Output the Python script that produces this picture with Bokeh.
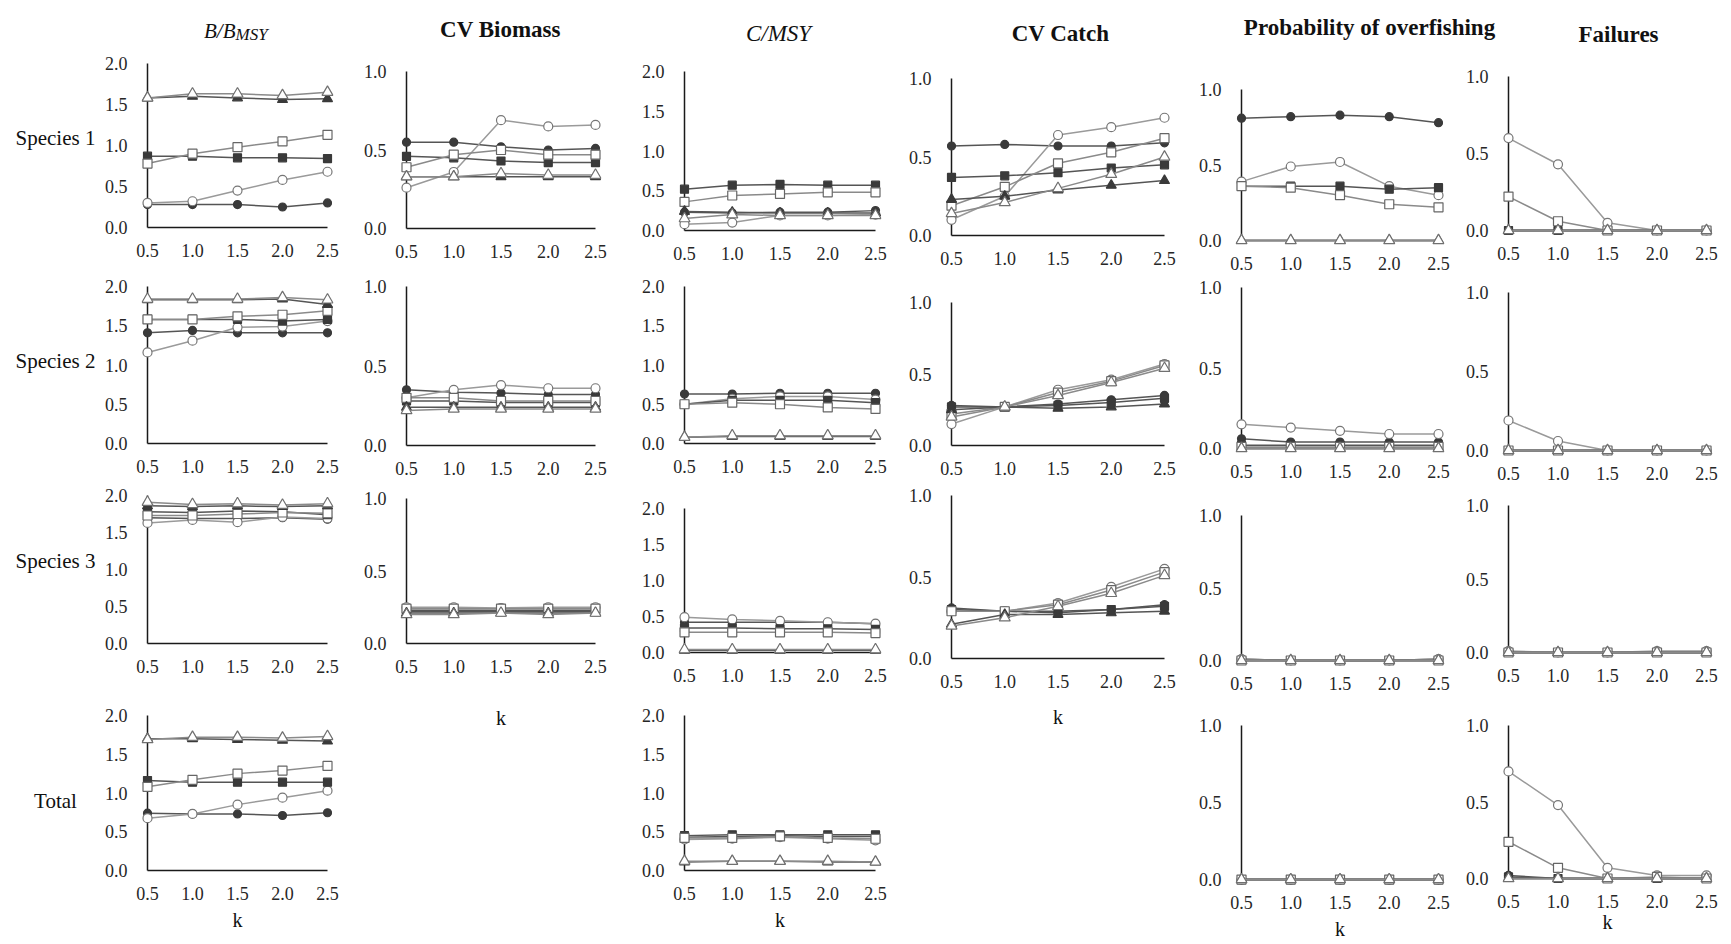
from bokeh.plotting import figure
from bokeh.layouts import row, column
from bokeh.models import Range1d, FixedTicker, NumeralTickFormatter
from bokeh.core.properties import value
from bokeh.embed import file_html
from bokeh.resources import INLINE

# ---------------- data ----------------
K = [0.5, 1.0, 1.5, 2.0, 2.5]
SERIES = ["fc", "oc", "fs", "os", "ft", "ot"]   # filled/open circle, square, triangle
ROW_LABELS = ["Species 1", "Species 2", "Species 3", "Total"]
Y_TICKS_2 = [0.0, 0.5, 1.0, 1.5, 2.0]
Y_TICKS_1 = [0.0, 0.5, 1.0]

# B/BMSY
BB_SP1 = [[0.28, 0.28, 0.28, 0.25, 0.30], [0.30, 0.32, 0.45, 0.58, 0.68], [0.87, 0.87, 0.85, 0.85, 0.84],
          [0.78, 0.90, 0.98, 1.05, 1.13], [1.58, 1.60, 1.58, 1.56, 1.57], [1.58, 1.63, 1.63, 1.61, 1.65]]
BB_SP2 = [[1.41, 1.44, 1.41, 1.41, 1.41], [1.16, 1.31, 1.48, 1.49, 1.56], [1.58, 1.58, 1.58, 1.56, 1.58],
          [1.58, 1.58, 1.62, 1.64, 1.69], [1.83, 1.83, 1.83, 1.84, 1.77], [1.84, 1.84, 1.84, 1.86, 1.83]]
BB_SP3 = [[1.70, 1.69, 1.69, 1.70, 1.68], [1.63, 1.67, 1.64, 1.71, 1.69], [1.78, 1.77, 1.79, 1.78, 1.74],
          [1.73, 1.73, 1.75, 1.77, 1.76], [1.86, 1.85, 1.86, 1.85, 1.86], [1.91, 1.88, 1.89, 1.87, 1.89]]
BB_TOT = [[0.74, 0.73, 0.73, 0.71, 0.745], [0.675, 0.73, 0.85, 0.94, 1.03], [1.16, 1.14, 1.14, 1.14, 1.14],
          [1.08, 1.17, 1.25, 1.29, 1.35], [1.70, 1.70, 1.69, 1.68, 1.67], [1.69, 1.72, 1.72, 1.71, 1.73]]
# CV Biomass
CVB_SP1 = [[0.55, 0.55, 0.52, 0.50, 0.51], [0.26, 0.36, 0.69, 0.65, 0.66], [0.46, 0.45, 0.43, 0.42, 0.42],
           [0.39, 0.47, 0.50, 0.47, 0.47], [0.33, 0.33, 0.33, 0.33, 0.33], [0.33, 0.33, 0.35, 0.34, 0.34]]
CVB_SP2 = [[0.35, 0.335, 0.33, 0.32, 0.32], [0.30, 0.35, 0.38, 0.36, 0.36], [0.28, 0.28, 0.27, 0.27, 0.27],
           [0.30, 0.30, 0.28, 0.28, 0.28], [0.24, 0.24, 0.24, 0.24, 0.24], [0.22, 0.23, 0.23, 0.23, 0.23]]
CVB_SP3 = [[0.23, 0.23, 0.23, 0.23, 0.23], [0.25, 0.25, 0.245, 0.25, 0.25], [0.22, 0.22, 0.22, 0.22, 0.22],
           [0.24, 0.24, 0.24, 0.24, 0.24], [0.21, 0.21, 0.21, 0.21, 0.21], [0.20, 0.20, 0.21, 0.20, 0.21]]
# C/MSY
CM_SP1 = [[0.23, 0.22, 0.23, 0.23, 0.25], [0.08, 0.10, 0.19, 0.19, 0.20], [0.52, 0.57, 0.58, 0.57, 0.57],
          [0.36, 0.44, 0.46, 0.48, 0.48], [0.24, 0.23, 0.22, 0.22, 0.22], [0.15, 0.20, 0.19, 0.19, 0.19]]
CM_SP2 = [[0.63, 0.63, 0.64, 0.64, 0.64], [0.50, 0.57, 0.60, 0.60, 0.56], [0.50, 0.55, 0.55, 0.55, 0.52],
          [0.50, 0.52, 0.50, 0.46, 0.44], [0.08, 0.09, 0.09, 0.09, 0.09], [0.08, 0.10, 0.10, 0.10, 0.10]]
CM_SP3 = [[0.42, 0.42, 0.42, 0.42, 0.40], [0.49, 0.46, 0.44, 0.42, 0.40], [0.34, 0.34, 0.33, 0.33, 0.32],
          [0.28, 0.28, 0.28, 0.28, 0.27], [0.03, 0.03, 0.03, 0.03, 0.03], [0.04, 0.04, 0.04, 0.04, 0.04]]
CM_TOT = [[0.43, 0.44, 0.45, 0.44, 0.44], [0.40, 0.41, 0.43, 0.41, 0.39], [0.45, 0.46, 0.46, 0.46, 0.46],
          [0.42, 0.42, 0.44, 0.42, 0.41], [0.11, 0.12, 0.12, 0.11, 0.11], [0.12, 0.12, 0.12, 0.12, 0.11]]
# CV Catch
CVC_SP1 = [[0.57, 0.58, 0.57, 0.57, 0.59], [0.10, 0.25, 0.64, 0.69, 0.75], [0.37, 0.38, 0.40, 0.43, 0.45],
           [0.19, 0.31, 0.46, 0.53, 0.62], [0.23, 0.25, 0.29, 0.32, 0.35], [0.14, 0.21, 0.30, 0.39, 0.50]]
CVC_SP2 = [[0.28, 0.27, 0.29, 0.32, 0.35], [0.15, 0.27, 0.39, 0.46, 0.57], [0.27, 0.27, 0.28, 0.30, 0.33],
           [0.22, 0.27, 0.37, 0.45, 0.56], [0.25, 0.27, 0.26, 0.27, 0.29], [0.20, 0.27, 0.35, 0.44, 0.54]]
CVC_SP3 = [[0.31, 0.29, 0.28, 0.30, 0.33], [0.29, 0.29, 0.34, 0.44, 0.55], [0.30, 0.29, 0.29, 0.30, 0.32],
           [0.29, 0.29, 0.33, 0.42, 0.53], [0.21, 0.27, 0.27, 0.28, 0.29], [0.20, 0.25, 0.32, 0.40, 0.51]]
# Probability of overfishing
PO_SP1 = [[0.81, 0.82, 0.83, 0.82, 0.78], [0.39, 0.49, 0.52, 0.36, 0.30], [0.36, 0.36, 0.36, 0.34, 0.35],
          [0.36, 0.35, 0.30, 0.24, 0.22], [0.0, 0.0, 0.0, 0.0, 0.0], [0.0, 0.0, 0.0, 0.0, 0.0]]
PO_SP2 = [[0.06, 0.04, 0.04, 0.04, 0.04], [0.15, 0.13, 0.11, 0.09, 0.09], [0.02, 0.02, 0.02, 0.02, 0.02],
          [0.01, 0.01, 0.01, 0.01, 0.01], [0.0, 0.0, 0.0, 0.0, 0.0], [0.0, 0.0, 0.0, 0.0, 0.0]]
PO_SP3 = [[0.01, 0.0, 0.0, 0.0, 0.01], [0.01, 0.0, 0.0, 0.0, 0.01], [0.0, 0.0, 0.0, 0.0, 0.0],
          [0.0, 0.0, 0.0, 0.0, 0.0], [0.0, 0.0, 0.0, 0.0, 0.0], [0.0, 0.0, 0.0, 0.0, 0.0]]
PO_TOT = [[0.0, 0.0, 0.0, 0.0, 0.0], [0.0, 0.0, 0.0, 0.0, 0.0], [0.0, 0.0, 0.0, 0.0, 0.0],
          [0.0, 0.0, 0.0, 0.0, 0.0], [0.0, 0.0, 0.0, 0.0, 0.0], [0.0, 0.0, 0.0, 0.0, 0.0]]
# Failures
FA_SP1 = [[0.0, 0.0, 0.0, 0.0, 0.0], [0.60, 0.43, 0.05, 0.0, 0.0], [0.0, 0.0, 0.0, 0.0, 0.0],
          [0.22, 0.06, 0.0, 0.0, 0.0], [0.0, 0.0, 0.0, 0.0, 0.0], [0.0, 0.0, 0.0, 0.0, 0.0]]
FA_SP2 = [[0.0, 0.0, 0.0, 0.0, 0.0], [0.19, 0.06, 0.0, 0.0, 0.0], [0.0, 0.0, 0.0, 0.0, 0.0],
          [0.0, 0.0, 0.0, 0.0, 0.0], [0.0, 0.0, 0.0, 0.0, 0.0], [0.0, 0.0, 0.0, 0.0, 0.0]]
FA_SP3 = [[0.0, 0.0, 0.0, 0.0, 0.0], [0.01, 0.0, 0.0, 0.01, 0.01], [0.0, 0.0, 0.0, 0.0, 0.0],
          [0.0, 0.0, 0.0, 0.0, 0.0], [0.0, 0.0, 0.0, 0.0, 0.0], [0.0, 0.0, 0.0, 0.0, 0.0]]
FA_TOT = [[0.02, 0.0, 0.0, 0.0, 0.0], [0.70, 0.48, 0.07, 0.02, 0.02], [0.01, 0.0, 0.0, 0.0, 0.0],
          [0.24, 0.07, 0.0, 0.01, 0.0], [0.0, 0.0, 0.0, 0.0, 0.0], [0.0, 0.0, 0.0, 0.0, 0.0]]

# ---------------- styling / layout ----------------
FONT = "Liberation Serif"
STYLE = {
    "fc": dict(marker="circle", size=8, fill="#3a3a3a", edge="#3a3a3a", line="#555555"),
    "oc": dict(marker="circle", size=9, fill="#ffffff", edge="#767676", line="#9a9a9a"),
    "fs": dict(marker="square", size=8, fill="#3a3a3a", edge="#3a3a3a", line="#555555"),
    "os": dict(marker="square", size=9, fill="#ffffff", edge="#666666", line="#8a8a8a"),
    "ft": dict(marker="triangle", size=10, fill="#3a3a3a", edge="#3a3a3a", line="#555555"),
    "ot": dict(marker="triangle", size=11, fill="#ffffff", edge="#707070", line="#8a8a8a"),
}

PAGE_LEFT, PAGE_RIGHT = 0, 1720
PAGE_TOP, PAGE_BOTTOM = 0, 942
HEADER_BOTTOM = 51
LABEL_BAND = (0, 98)
BANDS = [(98, 350), (350, 615), (615, 893), (893, 1188), (1188, 1456), (1456, 1720)]
PAD = 6

# per column: x of k=0.5 and k=2.5 (page px)
COL_X = [(147, 327), (406, 595), (684, 875), (951, 1164), (1241, 1438), (1508, 1706)]
# per column and row: y of the top tick and of 0 (page px)
ROW_Y = [
    [(63, 227), (286, 443), (495, 643), (715, 870)],
    [(71, 228), (286, 445), (498, 643), None],
    [(71, 230), (286, 443), (508, 652), (715, 870)],
    [(78, 235), (302, 445), (495, 658), None],
    [(89, 240), (287, 448), (515, 660), (725, 880)],
    [(76, 230), (292, 450), (505, 652), (725, 878)],
]
DATA = [
    [BB_SP1, BB_SP2, BB_SP3, BB_TOT],
    [CVB_SP1, CVB_SP2, CVB_SP3, None],
    [CM_SP1, CM_SP2, CM_SP3, CM_TOT],
    [CVC_SP1, CVC_SP2, CVC_SP3, None],
    [PO_SP1, PO_SP2, PO_SP3, PO_TOT],
    [FA_SP1, FA_SP2, FA_SP3, FA_TOT],
]
YMAX = [2.0, 1.0, 2.0, 1.0, 1.0, 1.0]
# "k" axis label standoff for panels that carry it
K_LABEL = {(1, 2): 31, (3, 2): 15, (0, 3): 6, (2, 3): 6, (4, 3): 6, (5, 3): 0}
# titles: (x, baseline y, text, size, style, align)
TITLES = [
    (235, 30, "B/B", "21px", "italic", "right"), (235, 34, "MSY", "17px", "italic", "left"),
    (500, 29, "CV Biomass", "23px", "bold", "center"),
    (778, 33, "C/MSY", "23px", "italic", "center"),
    (1060, 33, "CV Catch", "23px", "bold", "center"),
    (1369, 27, "Probability of overfishing", "23px", "bold", "center"),
    (1618, 34, "Failures", "23px", "bold", "center"),
]
ROW_LABEL_Y = [137, 360, 560, 800]


def text_fig(xr, yr, items):
    p = figure(width=xr[1] - xr[0], height=yr[1] - yr[0], x_range=Range1d(xr[0], xr[1]),
               y_range=Range1d(yr[1], yr[0]),
               x_axis_type=None, y_axis_type=None, output_backend="svg", toolbar_location=None,
               min_border=0, min_border_left=0, min_border_right=0, min_border_top=0, min_border_bottom=0)
    p.outline_line_color = None
    for (x, y, txt, size, style, align, base) in items:
        p.text(x=[x], y=[y], text=[txt], text_font=value(FONT), text_font_size=value(size),
               text_font_style=value(style), text_align=value(align), text_baseline=value(base),
               text_color=value("#111111"))
    return p


def panel(vals, ymax, xs, ys, band, top, bottom, k_standoff):
    L, R = xs
    T, B = ys
    bl, br = band
    xpad = 2.0 * PAD / (R - L)
    ypad = ymax * PAD / (B - T)
    p = figure(width=br - bl, height=bottom - top,
               x_range=Range1d(0.5 - xpad, 2.5 + xpad), y_range=Range1d(-ypad, ymax + ypad),
               output_backend="svg", toolbar_location=None,
               min_border_left=max(0, L - PAD - bl), min_border_right=max(0, br - (R + PAD)),
               min_border_top=max(0, T - PAD - top), min_border_bottom=max(0, bottom - (B + PAD)))
    p.outline_line_color = None
    p.xgrid.visible = False
    p.ygrid.visible = False
    for ax in (p.xaxis[0], p.yaxis[0]):
        ax.axis_line_color = None
        ax.major_tick_line_color = None
        ax.minor_tick_line_color = None
        ax.major_label_text_font = FONT
        ax.major_label_text_font_size = "18px"
        ax.major_label_text_color = "#262626"
        ax.formatter = NumeralTickFormatter(format="0.0")
    p.xaxis.ticker = FixedTicker(ticks=K)
    p.yaxis.ticker = FixedTicker(ticks=Y_TICKS_2 if ymax > 1.5 else Y_TICKS_1)
    p.xaxis.major_label_standoff = 10 - PAD
    p.yaxis.major_label_standoff = 14 - PAD
    if k_standoff is not None:
        p.xaxis.axis_label = "k"
        p.xaxis.axis_label_text_font = FONT
        p.xaxis.axis_label_text_font_size = "20px"
        p.xaxis.axis_label_text_font_style = "normal"
        p.xaxis.axis_label_text_color = "#111111"
        p.xaxis.axis_label_standoff = k_standoff
    # axis lines through (0.5, 0): vertical to the top tick, horizontal to the last k
    p.segment(x0=[K[0], K[0]], y0=[0.0, 0.0], x1=[K[0], K[-1]], y1=[ymax, 0.0],
              line_color="#1a1a1a", line_width=1.5)
    for name, yv in zip(SERIES, vals):
        st = STYLE[name]
        p.line(K, yv, line_color=st["line"], line_width=1.5)
        p.scatter(K, yv, marker=st["marker"], size=st["size"], fill_color=st["fill"],
                  line_color=st["edge"], line_width=1.2)
    return p


columns = []
for ci, band in enumerate(BANDS):
    rys = ROW_Y[ci]
    rows_present = [ri for ri in range(4) if rys[ri] is not None]
    kids = []
    top = HEADER_BOTTOM
    for idx, ri in enumerate(rows_present):
        T, B = rys[ri]
        if idx + 1 < len(rows_present):
            nT = rys[rows_present[idx + 1]][0]
            bottom = min(B + PAD + 34, nT - PAD - 6)
        else:
            bottom = PAGE_BOTTOM
        kids.append(panel(DATA[ci][ri], YMAX[ci], COL_X[ci], rys[ri], band, top, bottom,
                          K_LABEL.get((ci, ri))))
        top = bottom
    columns.append(column(*kids, spacing=0))

header_items = [(x, y, t, s, st, al, "alphabetic") for (x, y, t, s, st, al) in TITLES]
header = text_fig((PAGE_LEFT, PAGE_RIGHT), (PAGE_TOP, HEADER_BOTTOM), header_items)

label_items = [(55, y, t, "21px", "normal", "center", "middle") for y, t in zip(ROW_LABEL_Y, ROW_LABELS)]
label_fig = text_fig(LABEL_BAND, (HEADER_BOTTOM, PAGE_BOTTOM), label_items)

layout = column(header, row(label_fig, *columns, spacing=0), spacing=0)
open("out.html", "w").write(file_html(layout, INLINE))
